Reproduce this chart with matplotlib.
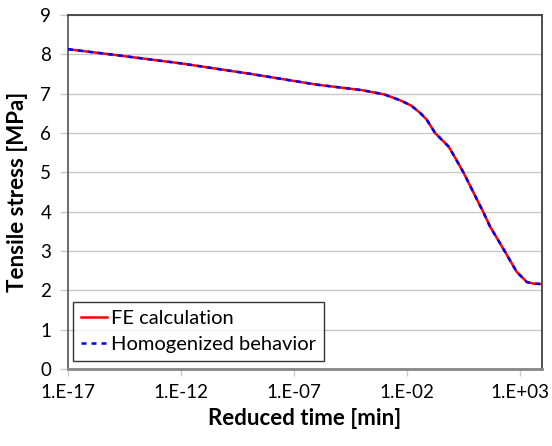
import matplotlib
matplotlib.use("Agg")
import matplotlib.pyplot as plt
from matplotlib.ticker import FixedLocator, NullLocator

# Data (reduced time in min, tensile stress in MPa)
time_min = [1e-17, 1e-15, 1e-12, 1e-9, 1e-6, 1e-4, 1e-3, 5e-3, 1.5e-2,
            3.8e-2, 7.4e-2, 0.174, 0.676, 1.12, 3.1, 24, 47, 132, 710,
            2000, 4000, 9000]
fe_stress = [8.13, 7.99, 7.77, 7.51, 7.23, 7.09, 6.98, 6.83, 6.70,
             6.51, 6.34, 6.00, 5.66, 5.45, 5.00, 3.98, 3.62, 3.19, 2.47,
             2.21, 2.17, 2.16]
homog_stress = [8.13, 7.99, 7.77, 7.51, 7.23, 7.09, 6.98, 6.83, 6.70,
                6.51, 6.34, 6.00, 5.66, 5.45, 5.00, 3.98, 3.62, 3.19, 2.47,
                2.21, 2.17, 2.16]

xticks = [1e-17, 1e-12, 1e-7, 1e-2, 1e3]
xticklabels = ["1.E-17", "1.E-12", "1.E-07", "1.E-02", "1.E+03"]
yticks = list(range(0, 10))

plt.rcParams['font.family'] = ['Lato', 'DejaVu Sans']

fig = plt.figure(figsize=(5.52, 4.46), dpi=100)
ax = fig.add_axes([68/552, 1-369/446, (542-68)/552, (369-15)/446])

ax.plot(time_min, fe_stress, color='#ff0000', lw=1.8, label='FE calculation', zorder=3)
ax.plot(time_min, homog_stress, color='#0000ff', lw=1.8, ls=(0, (2, 2)),
        label='Homogenized behavior', zorder=4)

ax.set_xscale('log')
ax.set_xlim(1e-17, 10**3.97)
ax.set_ylim(0, 9)
ax.xaxis.set_major_locator(FixedLocator(xticks))
ax.xaxis.set_minor_locator(NullLocator())
ax.set_xticklabels(xticklabels)
ax.set_yticks(yticks)

ax.yaxis.grid(True, color='#c8c8c8', lw=1)
ax.set_axisbelow(True)

for s in ['top', 'right']:
    ax.spines[s].set_color('#404040')
    ax.spines[s].set_linewidth(1.3)
ax.spines['left'].set_color('#606060')
ax.spines['left'].set_linewidth(1.3)
ax.spines['bottom'].set_color('#868686')
ax.spines['bottom'].set_linewidth(2)

ax.tick_params(axis='x', direction='out', length=5, width=1, color='#c8c8c8',
               labelsize=13.5, pad=6)
ax.tick_params(axis='y', direction='out', length=6, width=1, color='#c8c8c8',
               labelsize=13.5, pad=6)

ax.set_xlabel('Reduced time [min]', fontsize=16, fontweight='bold', labelpad=5)
ax.set_ylabel('Tensile stress [MPa]', fontsize=16, fontweight='bold', labelpad=9)

leg = ax.legend(loc='lower left', bbox_to_anchor=(0.01, 0.022), borderaxespad=0,
                fontsize=14.5, frameon=True, fancybox=False, handlelength=1.3,
                handletextpad=0.2, borderpad=0.4, labelspacing=0.45)
leg.get_frame().set_edgecolor('#000000')
leg.get_frame().set_linewidth(1.0)

fig.savefig('out.png', dpi=100)
